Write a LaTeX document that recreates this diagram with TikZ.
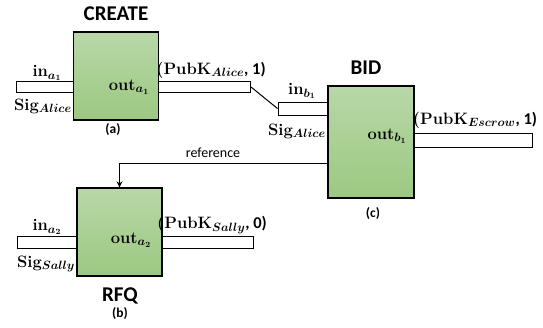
\documentclass[tikz,border=0pt]{standalone}
\usepackage{amsmath}
\usepackage{fontspec}
\newfontfamily\calibri{Carlito}
\usetikzlibrary{arrows.meta}

\definecolor{boxtop}{RGB}{184,216,167}
\definecolor{boxbot}{RGB}{156,200,130}

\begin{document}
\begin{tikzpicture}[x=1pt, y=-1pt,
  txbox/.style={draw, line width=1.4pt, top color=boxtop, bottom color=boxbot,
    minimum width=#1, inner sep=0pt},
  bar/.style={draw, fill=white, line width=1pt, inner sep=0pt, minimum height=#1},
  lbl/.style={font=\fontsize{16.5}{18}\selectfont\bfseries, inner sep=0pt},
  ttl/.style={font=\fontsize{21}{24}\selectfont\calibri\bfseries, inner sep=0pt},
  tag/.style={font=\fontsize{13.5}{15}\selectfont\calibri\bfseries, inner sep=0pt}]

  \useasboundingbox (0,0) rectangle (543,327);

  % input / output bars (drawn first, the boxes cover their ends)
  \node[bar=11, minimum width=60] (inA) at (46,87) {};
  \node[bar=11, minimum width=93] (outA) at (204,87) {};
  \node[bar=13, minimum width=52] (inB) at (304,108.5) {};
  \node[bar=14, minimum width=120] (outB) at (472,140) {};
  \node[bar=12, minimum width=61] (inR) at (48,242) {};
  \node[bar=12, minimum width=93] (outR) at (207,242) {};

  % the three transactions
  \node[txbox=85, minimum height=88] (create) at (116,76) {};
  \node[txbox=86, minimum height=112] (bid) at (371,142) {};
  \node[txbox=85, minimum height=88] (rfq) at (119.5,232) {};

  % spend CREATE's output in BID
  \draw[line width=1pt] (outA.east) -- (inB.west);

  % BID refers back to RFQ
  \coordinate (refstart) at (bid.west |- 0,163);
  \draw[line width=1pt, -{Stealth[length=6pt, width=6pt]}] (refstart) -| (rfq.north);
  \node[font=\fontsize{14}{16}\selectfont\calibri, inner sep=0pt] (ref) at (213,153) {reference};

  % titles
  \node[ttl] (tcreate) at (116,14) {CREATE};
  \node[ttl] (tbid) at (366,68) {BID};
  \node[ttl] (trfq) at (120,296) {RFQ};
  \node[tag] (ta) at (113,130) {(a)};
  \node[tag] (tb) at (120,314) {(b)};
  \node[tag] (tc) at (373,214) {(c)};

  % labels of CREATE
  \node[lbl] (lina) at (47,73) {in$_{\boldsymbol{a_1}}$};
  \node[lbl] (lsiga) at (43,106) {Sig$_{\boldsymbol{Alice}}$};
  \node[lbl] (louta) at (129,87) {out$_{\boldsymbol{a_1}}$};
  \node[lbl] (lpka) at (211,70) {(PubK$_{\boldsymbol{Alice}}${\calibri, 1)}};

  % labels of BID
  \node[lbl] (linb) at (302,91) {in$_{\boldsymbol{b_1}}$};
  \node[lbl] (lsigb) at (297,131) {Sig$_{\boldsymbol{Alice}}$};
  \node[lbl] (loutb) at (387,136) {out$_{\boldsymbol{b_1}}$};
  \node[lbl] (lpkb) at (475,120) {(PubK$_{\boldsymbol{Escrow}}${\calibri, 1)}};

  % labels of RFQ
  \node[lbl] (linr) at (47,227) {in$_{\boldsymbol{a_2}}$};
  \node[lbl] (lsigr) at (46,264) {Sig$_{\boldsymbol{Sally}}$};
  \node[lbl] (loutr) at (131,240) {out$_{\boldsymbol{a_2}}$};
  \node[lbl] (lpkr) at (212,225) {(PubK$_{\boldsymbol{Sally}}${\calibri, 0)}};
\end{tikzpicture}
\end{document}
